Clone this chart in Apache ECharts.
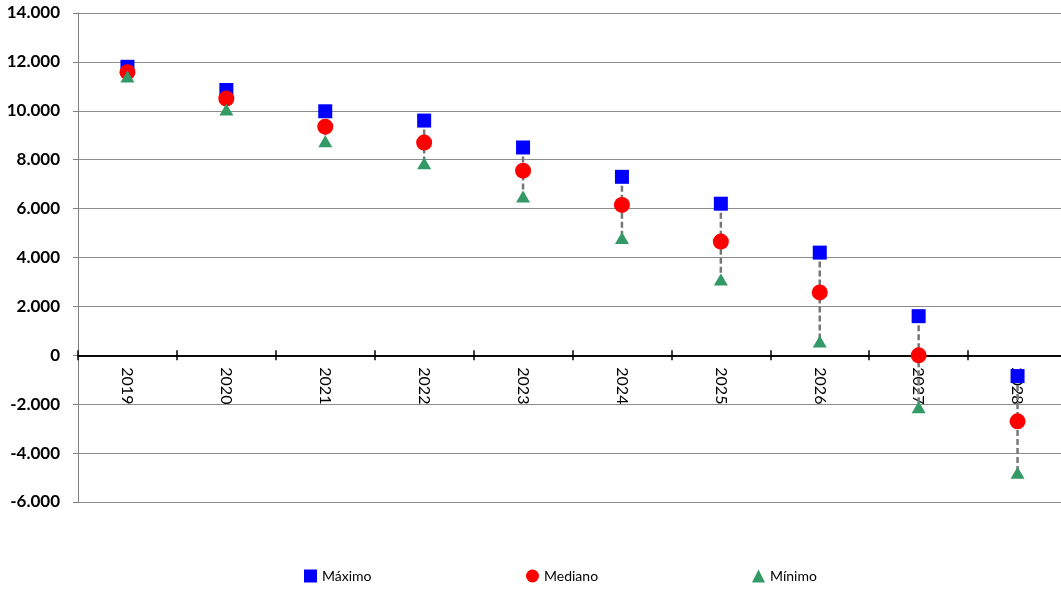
<!DOCTYPE html>
<html>
<head>
<meta charset="utf-8">
<script src="https://cdn.jsdelivr.net/npm/echarts@6/dist/echarts.min.js"></script>
<style>
  html, body { margin: 0; padding: 0; background: #fff; }
  #chart { width: 1061px; height: 589px; }
</style>
</head>
<body>
<div id="chart"></div>
<script>
// Years on the category axis
const years = ['2019', '2020', '2021', '2022', '2023', '2024', '2025', '2026', '2027', '2028'];
// Projected values per year
const maximo  = [11800, 10850, 9980, 9600, 8500, 7300, 6200, 4200, 1600, -850];
const mediano = [11580, 10500, 9350, 8700, 7550, 6150, 4650, 2570, 0, -2700];
const minimo  = [11400, 10050, 8750, 7850, 6500, 4800, 3100, 560, -2120, -4800];

const yMin = -6000, yMax = 14000, yStep = 2000;

function fmtThousands(v) {
  const s = Math.abs(v).toString().replace(/\B(?=(\d{3})+(?!\d))/g, '.');
  return (v < 0 ? '-' : '') + s;
}

const H = 589;
// the plot area runs slightly past the right edge of the canvas
const grid = { left: 78, top: 13, width: 989, bottom: 87, outerBoundsMode: 'none', containLabel: false };
const plotH = H - grid.top - grid.bottom;
// lift the category axis from the plot bottom up to the value 0
const zeroLift = -plotH * (0 - yMin) / (yMax - yMin);

const chart = echarts.init(document.getElementById('chart'));

const rangeData = years.map((y, i) => [i, maximo[i], minimo[i]]);

const legendText = { fontFamily: 'Lato', fontSize: 14, color: '#000' };

const catAxisBase = {
  type: 'category',
  data: years,
  position: 'bottom',
  offset: zeroLift,
  axisLine: { onZero: false, lineStyle: { color: '#000', width: 1.5 } },
  splitLine: { show: false }
};

chart.setOption({
  animation: false,
  grid: grid,
  legend: [
    { data: ['Máximo'], left: 299, top: 564, itemWidth: 13, itemHeight: 13, itemGap: 4, textStyle: legendText },
    { data: ['Mediano'], left: 521, top: 564, itemWidth: 13, itemHeight: 13, textStyle: legendText },
    { data: ['Mínimo'], left: 747, top: 564, itemWidth: 13, itemHeight: 13, textStyle: legendText }
  ],
  xAxis: [
    Object.assign({}, catAxisBase, {
      axisTick: { show: true, inside: false, length: 5, lineStyle: { color: '#000', width: 1.5 } },
      axisLabel: { rotate: -90, margin: 12, fontFamily: 'Lato', fontSize: 16, color: '#000' }
    }),
    Object.assign({}, catAxisBase, {
      axisTick: { show: true, inside: true, length: 5, lineStyle: { color: '#000', width: 1.5 } },
      axisLabel: { show: false }
    })
  ],
  yAxis: {
    type: 'value',
    min: yMin,
    max: yMax,
    interval: yStep,
    axisLine: { show: true, onZero: false, lineStyle: { color: '#808080', width: 1 } },
    axisTick: { show: true, length: 5, lineStyle: { color: '#808080' } },
    axisLabel: {
      margin: 18,
      fontFamily: 'Lato', fontSize: 17, fontWeight: 'bold', color: '#000',
      formatter: fmtThousands
    },
    splitLine: { show: true, lineStyle: { color: '#8c8c8c', width: 1 } }
  },
  series: [
    {
      name: 'rango',
      type: 'custom',
      z: 1,
      silent: true,
      data: rangeData,
      encode: { x: 0, y: [1, 2] },
      renderItem: function (params, api) {
        const p1 = api.coord([api.value(0), api.value(1)]);
        const p2 = api.coord([api.value(0), api.value(2)]);
        return {
          type: 'line',
          shape: { x1: p1[0], y1: p1[1], x2: p2[0], y2: p2[1] },
          style: { stroke: '#777777', lineWidth: 2.5, lineDash: [6, 3] }
        };
      }
    },
    {
      name: 'Máximo',
      type: 'scatter',
      z: 3,
      symbol: 'rect',
      symbolSize: 14,
      itemStyle: { color: '#0000ff', opacity: 1 },
      data: maximo
    },
    {
      name: 'Mediano',
      type: 'scatter',
      z: 4,
      symbol: 'circle',
      symbolSize: 16,
      itemStyle: { color: '#ff0000', opacity: 1 },
      data: mediano
    },
    {
      name: 'Mínimo',
      type: 'scatter',
      z: 5,
      symbol: 'triangle',
      symbolSize: [14, 12],
      itemStyle: { color: '#339966', opacity: 1 },
      data: minimo
    }
  ]
});
</script>
</body>
</html>
